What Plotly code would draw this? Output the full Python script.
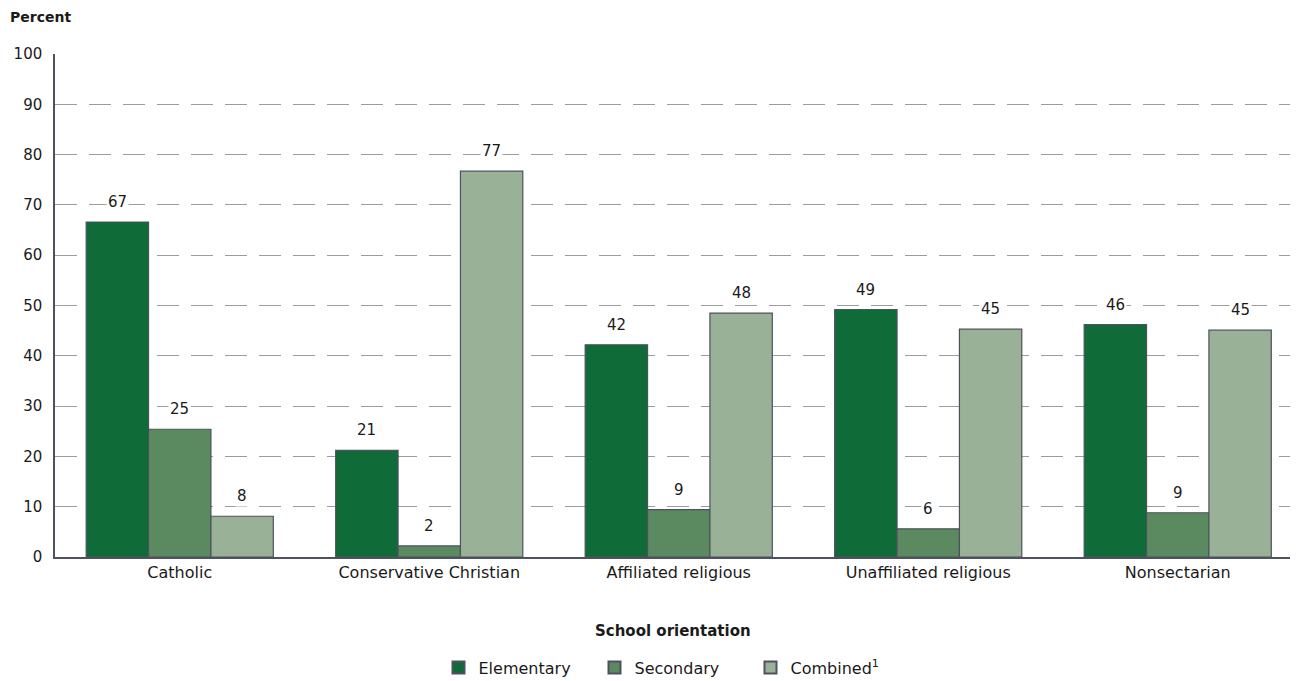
import plotly.graph_objects as go

categories = ["Catholic", "Conservative Christian", "Affiliated religious", "Unaffiliated religious", "Nonsectarian"]
elementary = [66.6, 21.2, 42.2, 49.2, 46.2]
secondary = [25.4, 2.2, 9.4, 5.6, 8.8]
combined = [8.1, 76.7, 48.5, 45.3, 45.1]
series_names = ["Elementary", "Secondary", "Combined<sup>1</sup>"]
colors = ["#0f6b37", "#5b8a60", "#99b197"]
y_ticks = list(range(0, 101, 10))

FONT = "'DejaVu Sans', sans-serif"
FS_NUM = 15
FS_TXT = 16
series = [elementary, secondary, combined]

fig = go.Figure()
for name, vals, col in zip(series_names, series, colors):
    fig.add_trace(go.Bar(
        x=categories, y=vals, name=name,
        marker=dict(color=col, line=dict(color="#4d525e", width=1.2)),
        hoverinfo="skip",
    ))

# value labels with white background (data-driven positions)
bar_w = 0.75 / 3
for j, vals in enumerate(series):
    for i, v in enumerate(vals):
        fig.add_annotation(
            x=i + (j - 1) * bar_w, y=v, xref="x", yref="y",
            text=str(round(v)), showarrow=False, yanchor="bottom", yshift=9,
            bgcolor="white", borderpad=1,
            font=dict(family=FONT, size=FS_NUM, color="#1a1a1a"),
        )

fig.add_annotation(
    x=-0.038, y=1.074, xref="paper", yref="paper", xanchor="left", yanchor="middle",
    text="<b>Percent</b>", showarrow=False,
    font=dict(family=FONT, size=14, color="#1a1a1a"),
)
fig.add_annotation(
    x=0.5, y=-0.147, xref="paper", yref="paper", xanchor="center", yanchor="middle",
    text="<b>School orientation</b>", showarrow=False,
    font=dict(family=FONT, size=15, color="#1a1a1a"),
)

fig.update_layout(
    width=1294, height=673,
    margin=dict(l=47, r=12, t=46, b=124, autoexpand=False),
    plot_bgcolor="white", paper_bgcolor="white",
    barmode="group", bargap=0.25, bargroupgap=0,
    font=dict(family=FONT, size=FS_TXT, color="#1a1a1a"),
    showlegend=True,
    legend=dict(orientation="h", x=0.5, xanchor="center", y=-0.22, yanchor="middle",
                font=dict(family=FONT, size=FS_TXT, color="#1a1a1a"),
                itemsizing="constant", traceorder="normal", itemwidth=30,
                entrywidth=111, entrywidthmode="pixels"),
    xaxis=dict(
        range=[-0.5, 4.45], showgrid=False, showline=True, linecolor="#4d525e", linewidth=1.5,
        ticks="", tickfont=dict(family=FONT, size=FS_TXT, color="#1a1a1a"), automargin=False,
    ),
    yaxis=dict(
        range=[0, 100], tickvals=y_ticks, showline=True, linecolor="#4d525e", linewidth=1.5,
        showgrid=True, gridcolor="#9a9ca4", gridwidth=1, griddash="22px,12px",
        zeroline=False, ticks="", ticklabelstandoff=8, automargin=False,
        tickfont=dict(family=FONT, size=FS_NUM, color="#1a1a1a"),
    ),
)

fig.write_html("out.html")
